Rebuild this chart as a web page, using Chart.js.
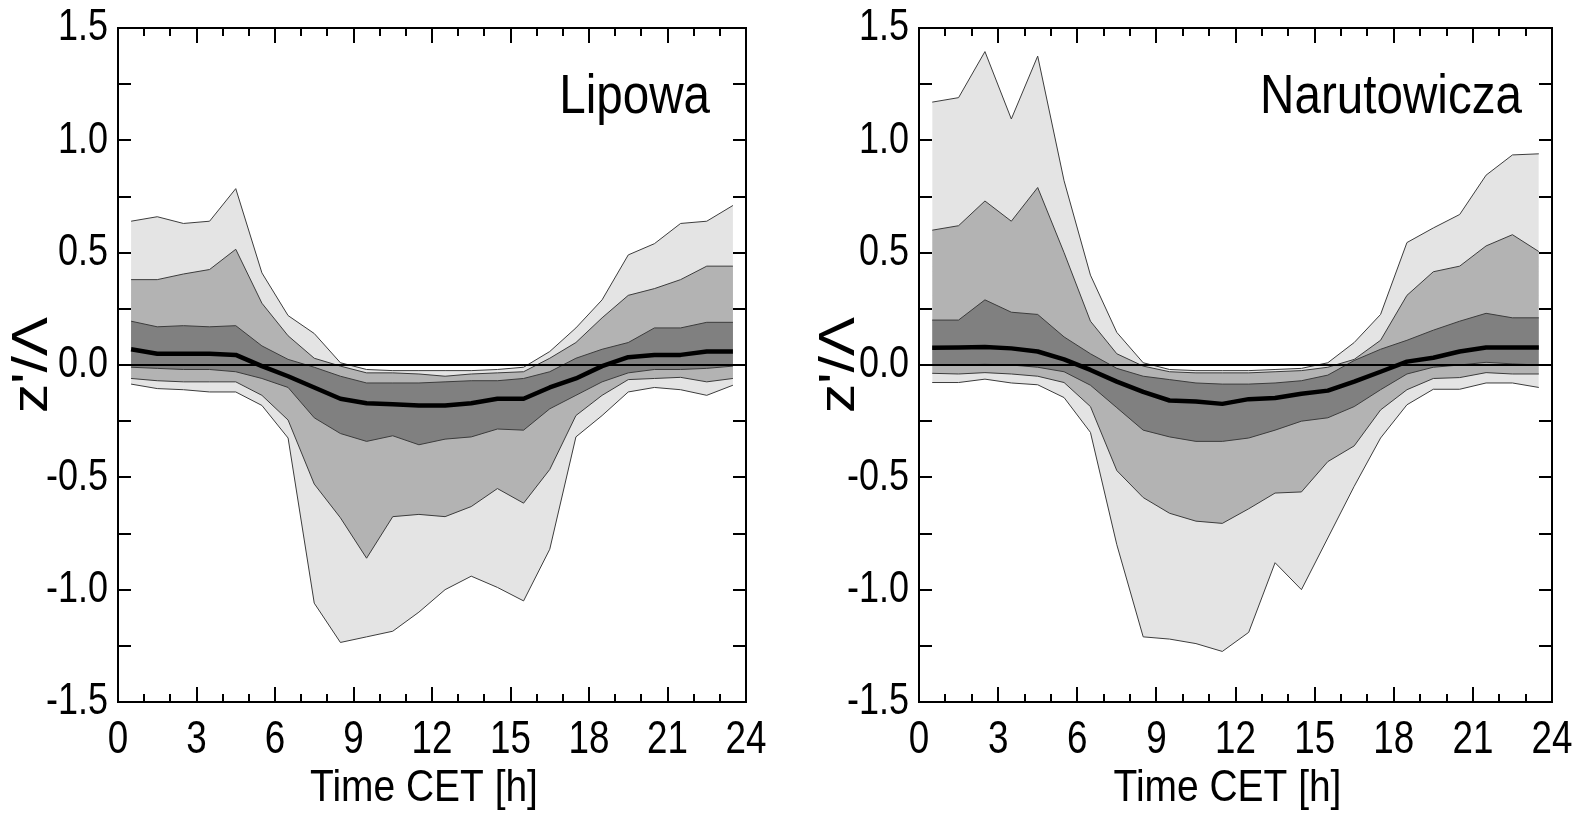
<!DOCTYPE html>
<html>
<head>
<meta charset="utf-8">
<script src="https://cdn.jsdelivr.net/npm/chart.js@4.4.1/dist/chart.umd.min.js"></script>
<style>
  html, body { margin: 0; padding: 0; background: #ffffff; }
  #wrap { position: relative; width: 1580px; height: 816px; overflow: hidden; background: #fff; }
  .cv { position: absolute; top: 0; }
</style>
</head>
<body>
<div id="wrap">
  <div class="cv" style="left:0px;width:790px;height:816px;"><canvas id="c1" width="790" height="816"></canvas></div>
  <div class="cv" style="left:790px;width:790px;height:816px;"><canvas id="c2" width="790" height="816"></canvas></div>
</div>
<script>
// ---------------- DATA ----------------
const hours = [0.5, 1.5, 2.5, 3.5, 4.5, 5.5, 6.5, 7.5, 8.5, 9.5, 10.5, 11.5,
               12.5, 13.5, 14.5, 15.5, 16.5, 17.5, 18.5, 19.5, 20.5, 21.5, 22.5, 23.5];
const xTickLabels = ['0', '3', '6', '9', '12', '15', '18', '21', '24'];
const yTickLabels = ['-1.5', '-1.0', '-0.5', '0.0', '0.5', '1.0', '1.5'];
const panelNames = ['Lipowa', 'Narutowicza'];
const xTitle = 'Time CET [h]';
const yTitle = "z'/\u039B";

// Lipowa
const lipowaLightHigh = [0.64, 0.66, 0.63, 0.64, 0.785, 0.41, 0.22, 0.14, 0.01, -0.02, -0.025, -0.025,
                         -0.025, -0.025, -0.02, -0.01, 0.06, 0.165, 0.29, 0.49, 0.54, 0.63, 0.64, 0.71];
const lipowaMidHigh   = [0.38, 0.38, 0.405, 0.425, 0.515, 0.275, 0.13, 0.03, -0.005, -0.035, -0.035, -0.04,
                         -0.05, -0.04, -0.035, -0.03, 0.03, 0.10, 0.21, 0.31, 0.34, 0.38, 0.44, 0.44];
const lipowaDarkHigh  = [0.195, 0.17, 0.175, 0.17, 0.175, 0.085, 0.025, -0.01, -0.05, -0.08, -0.08, -0.08,
                         -0.075, -0.07, -0.07, -0.06, -0.03, 0.03, 0.07, 0.10, 0.165, 0.165, 0.19, 0.19];
const lipowaMedian    = [0.07, 0.05, 0.05, 0.05, 0.045, -0.005, -0.05, -0.10, -0.15, -0.17, -0.175, -0.18,
                         -0.18, -0.17, -0.15, -0.15, -0.10, -0.06, -0.005, 0.035, 0.045, 0.045, 0.06, 0.06];
const lipowaDarkLow   = [-0.01, -0.015, -0.02, -0.02, -0.03, -0.06, -0.10, -0.235, -0.305, -0.34, -0.315, -0.355,
                         -0.33, -0.32, -0.285, -0.29, -0.195, -0.135, -0.075, -0.035, -0.02, -0.02, -0.015, -0.005];
const lipowaMidLow    = [-0.06, -0.07, -0.075, -0.075, -0.075, -0.135, -0.245, -0.53, -0.68, -0.86, -0.675, -0.665,
                         -0.675, -0.63, -0.55, -0.615, -0.465, -0.225, -0.135, -0.065, -0.06, -0.055, -0.075, -0.06];
const lipowaLightLow  = [-0.085, -0.105, -0.11, -0.12, -0.12, -0.18, -0.325, -1.06, -1.235, -1.21, -1.185, -1.10,
                         -1.00, -0.94, -0.99, -1.05, -0.82, -0.32, -0.225, -0.12, -0.10, -0.11, -0.135, -0.09];

// Narutowicza
const naruLightHigh = [1.17, 1.19, 1.395, 1.095, 1.375, 0.82, 0.40, 0.145, 0.01, -0.02, -0.025, -0.025,
                       -0.025, -0.02, -0.015, 0.01, 0.10, 0.225, 0.545, 0.61, 0.67, 0.845, 0.935, 0.94];
const naruMidHigh   = [0.60, 0.62, 0.73, 0.64, 0.79, 0.50, 0.195, 0.05, -0.005, -0.03, -0.035, -0.035,
                       -0.035, -0.03, -0.025, -0.01, 0.025, 0.11, 0.31, 0.415, 0.44, 0.53, 0.58, 0.505];
const naruDarkHigh  = [0.20, 0.20, 0.29, 0.235, 0.225, 0.125, 0.05, -0.015, -0.05, -0.065, -0.08, -0.085,
                       -0.085, -0.08, -0.07, -0.045, 0.02, 0.07, 0.11, 0.155, 0.195, 0.23, 0.21, 0.21];
const naruMedian    = [0.077, 0.078, 0.08, 0.074, 0.06, 0.025, -0.022, -0.074, -0.12, -0.158, -0.162, -0.173,
                       -0.152, -0.147, -0.128, -0.114, -0.074, -0.03, 0.015, 0.032, 0.06, 0.078, 0.078, 0.078];
const naruDarkLow   = [0.0, 0.0, 0.003, 0.0, -0.01, -0.03, -0.09, -0.19, -0.29, -0.32, -0.34, -0.34,
                       -0.325, -0.29, -0.25, -0.235, -0.185, -0.11, -0.04, -0.01, 0.0, 0.012, 0.005, 0.0];
const naruMidLow    = [-0.037, -0.04, -0.034, -0.04, -0.05, -0.078, -0.185, -0.47, -0.59, -0.66, -0.695, -0.705,
                       -0.64, -0.57, -0.565, -0.43, -0.36, -0.20, -0.11, -0.06, -0.056, -0.034, -0.04, -0.04];
const naruLightLow  = [-0.078, -0.078, -0.063, -0.08, -0.088, -0.145, -0.30, -0.80, -1.21, -1.22, -1.24, -1.275,
                       -1.19, -0.88, -1.00, -0.77, -0.54, -0.325, -0.177, -0.108, -0.108, -0.08, -0.08, -0.10];

// ---------------- STYLE ----------------
const FONT = "'Liberation Sans', Arial, sans-serif";
const C_LIGHT = '#e4e4e4', C_MID = '#b3b3b3', C_DARK = '#808080', C_EDGE = '#3c3c3c';

function pts(arr) { return hours.map((h, i) => ({ x: h, y: arr[i] })); }

// horizontal width factor per text (the original uses a narrow face); text stays real canvas text
function widthFactor(text) {
  if (text === yTitle) return 1.18;
  if (text === xTitle) return 0.865;
  if (panelNames.indexOf(text) >= 0) return 0.85;
  return 0.8;
}
function shiftFor(text) { return text === xTitle ? -8 : 0; }

const narrowTextPlugin = {
  id: 'narrowText',
  beforeInit(chart) {
    const ctx = chart.ctx;
    const orig = ctx.fillText.bind(ctx);
    ctx.fillText = function (text, x, y) {
      const f = widthFactor(String(text));
      ctx.save();
      ctx.translate(x + shiftFor(String(text)), y);
      ctx.scale(f, 1);
      orig(text, 0, 0);
      ctx.restore();
    };
  }
};

const framePlugin = {
  id: 'frameTicks',
  afterDatasetsDraw(chart, args, opts) {
    const ctx = chart.ctx, a = chart.chartArea;
    const xs = chart.scales.x, ys = chart.scales.y;
    ctx.save();
    ctx.strokeStyle = '#000';
    ctx.lineWidth = 2;
    ctx.lineCap = 'butt';
    ctx.beginPath();
    for (let h = 0; h <= 24; h++) {
      const px = Math.round(xs.getPixelForValue(h));
      const len = (h % 3 === 0) ? 15 : 8;
      ctx.moveTo(px, a.bottom); ctx.lineTo(px, a.bottom - len);
      ctx.moveTo(px, a.top); ctx.lineTo(px, a.top + len);
    }
    for (let k = -6; k <= 6; k++) {
      const py = Math.round(ys.getPixelForValue(k * 0.25));
      ctx.moveTo(a.left, py); ctx.lineTo(a.left + 13, py);
      ctx.moveTo(a.right, py); ctx.lineTo(a.right - 13, py);
    }
    ctx.stroke();
    ctx.strokeRect(a.left, a.top, a.right - a.left, a.bottom - a.top);
    // panel name
    ctx.fillStyle = '#000';
    ctx.font = '56px ' + FONT;
    ctx.textAlign = 'right';
    ctx.textBaseline = 'alphabetic';
    ctx.fillText(opts.label, a.right - opts.labelInset, 113);
    ctx.restore();
  }
};

function makeChart(id, p, s) {
  const edge = { borderColor: C_EDGE, borderWidth: 1, pointRadius: 0, tension: 0 };
  const datasets = [
    { label: 'zero', data: [{ x: 0, y: 0 }, { x: 24, y: 0 }], borderColor: '#000', borderWidth: 2, pointRadius: 0, fill: false },
    { label: 'median', data: pts(s.median), borderColor: '#000', borderWidth: 4.5, pointRadius: 0, fill: false, borderJoinStyle: 'round' },
    Object.assign({ label: 'darkHigh', data: pts(s.darkHigh), fill: '+1', backgroundColor: C_DARK }, edge),
    Object.assign({ label: 'darkLow', data: pts(s.darkLow), fill: false }, edge),
    Object.assign({ label: 'midHigh', data: pts(s.midHigh), fill: '+1', backgroundColor: C_MID }, edge),
    Object.assign({ label: 'midLow', data: pts(s.midLow), fill: false }, edge),
    Object.assign({ label: 'lightHigh', data: pts(s.lightHigh), fill: '+1', backgroundColor: C_LIGHT }, edge),
    Object.assign({ label: 'lightLow', data: pts(s.lightLow), fill: false }, edge)
  ];
  return new Chart(document.getElementById(id), {
    type: 'line',
    data: { datasets },
    plugins: [narrowTextPlugin, framePlugin],
    options: {
      responsive: false,
      animation: false,
      devicePixelRatio: 1,
      layout: { padding: { left: 0, top: 28, right: p.padRight, bottom: 0 } },
      plugins: {
        legend: { display: false },
        tooltip: { enabled: false },
        filler: { drawTime: 'beforeDatasetsDraw' },
        frameTicks: { label: p.label, labelInset: p.labelInset }
      },
      scales: {
        x: {
          type: 'linear', min: 0, max: 24,
          grid: { display: false, drawTicks: false },
          border: { display: false },
          ticks: {
            stepSize: 3, autoSkip: false, maxRotation: 0, padding: 11, color: '#000',
            font: { family: FONT, size: 46 },
            callback: (v) => { const i = Math.round(v / 3); return (Math.abs(v - i * 3) < 1e-6) ? xTickLabels[i] : ''; }
          },
          title: { display: true, text: xTitle, color: '#000', font: { family: FONT, size: 45 }, padding: { top: 0, bottom: 0 } },
          afterFit: (sc) => { sc.height = 114; sc.paddingLeft = 0; sc.paddingRight = 0; }
        },
        y: {
          type: 'linear', min: -1.5, max: 1.5,
          grid: { display: false, drawTicks: false },
          border: { display: false },
          ticks: {
            stepSize: 0.5, padding: 10, color: '#000',
            font: { family: FONT, size: 45 },
            callback: (v) => { const i = Math.round((v + 1.5) / 0.5); return (Math.abs(v - (i * 0.5 - 1.5)) < 1e-6) ? yTickLabels[i] : ''; }
          },
          title: { display: true, text: yTitle, color: '#000', font: { family: FONT, size: 50 }, padding: { top: p.yTitlePad, bottom: 0 } },
          afterFit: (sc) => { sc.width = p.yWidth; sc.paddingTop = 0; sc.paddingBottom = 0; }
        }
      }
    }
  });
}

makeChart('c1', { padRight: 44, yWidth: 118, yTitlePad: 3, label: panelNames[0], labelInset: 36 }, {
  lightHigh: lipowaLightHigh, midHigh: lipowaMidHigh, darkHigh: lipowaDarkHigh, median: lipowaMedian,
  darkLow: lipowaDarkLow, midLow: lipowaMidLow, lightLow: lipowaLightLow
});
makeChart('c2', { padRight: 28, yWidth: 129, yTitlePad: 20, label: panelNames[1], labelInset: 30 }, {
  lightHigh: naruLightHigh, midHigh: naruMidHigh, darkHigh: naruDarkHigh, median: naruMedian,
  darkLow: naruDarkLow, midLow: naruMidLow, lightLow: naruLightLow
});
</script>
</body>
</html>
